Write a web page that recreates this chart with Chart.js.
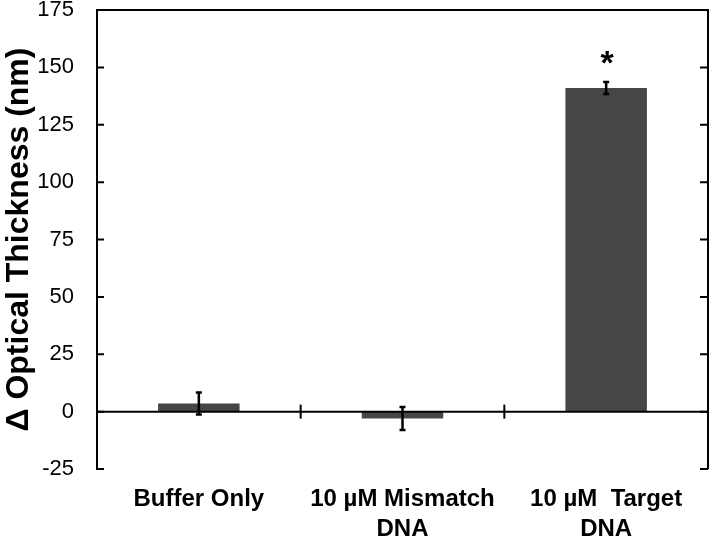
<!DOCTYPE html>
<html>
<head>
<meta charset="utf-8">
<script src="https://cdn.jsdelivr.net/npm/chart.js@4.4.1/dist/chart.umd.min.js"></script>
<style>
  body { margin: 0; background: #fff; }
  #wrap { width: 713px; height: 536px; }
</style>
</head>
<body>
<div id="wrap"><canvas id="thicknessChart"></canvas></div>
<script>
document.addEventListener("DOMContentLoaded", function() {
  const ctx = document.getElementById('thicknessChart').getContext('2d');

  // data
  const categories = [['Buffer Only'], ['10 \u00b5M Mismatch', 'DNA'], ['10 \u00b5M  Target', 'DNA']];
  const thicknessMeans = [3.5, -3.0, 141.0];
  const thicknessErrors = [4.8, 5.0, 2.6];
  const significance = ['', '', '*'];
  const yTicks = [-25, 0, 25, 50, 75, 100, 125, 150, 175];

  const fontFamily = '"Liberation Sans", Arial, sans-serif';

  // frame, zero line, inward ticks, error bars, asterisks
  const decorations = {
    id: 'decorations',
    afterDatasetsDraw(chart) {
      const c = chart.ctx;
      const area = chart.chartArea;
      const y = chart.scales.y;
      c.save();
      c.strokeStyle = '#000';
      c.lineWidth = 2;
      c.lineCap = 'butt';

      // top and right frame
      c.beginPath();
      c.moveTo(area.left - 1, area.top);
      c.lineTo(area.right, area.top);
      c.lineTo(area.right, area.bottom);
      c.stroke();

      // inward tick marks on both sides
      yTicks.forEach(v => {
        const py = y.getPixelForValue(v);
        c.beginPath();
        c.moveTo(area.left, py);
        c.lineTo(area.left + 7, py);
        c.moveTo(area.right, py);
        c.lineTo(area.right - 8, py);
        c.stroke();
      });

      // zero line with category separators
      const y0 = y.getPixelForValue(0);
      c.beginPath();
      c.moveTo(area.left, y0);
      c.lineTo(area.right, y0);
      c.stroke();
      const step = (area.right - area.left) / categories.length;
      for (let i = 1; i < categories.length; i++) {
        const px = area.left + step * i;
        c.beginPath();
        c.moveTo(px, y0 - 7);
        c.lineTo(px, y0 + 7);
        c.stroke();
      }

      // error bars
      const meta = chart.getDatasetMeta(0);
      c.lineWidth = 2.5;
      meta.data.forEach((bar, i) => {
        const top = y.getPixelForValue(thicknessMeans[i] + thicknessErrors[i]);
        const bot = y.getPixelForValue(thicknessMeans[i] - thicknessErrors[i]);
        c.beginPath();
        c.moveTo(bar.x, top);
        c.lineTo(bar.x, bot);
        c.moveTo(bar.x - 3, top);
        c.lineTo(bar.x + 3, top);
        c.moveTo(bar.x - 3, bot);
        c.lineTo(bar.x + 3, bot);
        c.stroke();

        if (significance[i]) {
          c.fillStyle = '#000';
          c.font = 'bold 34px ' + fontFamily;
          c.textAlign = 'center';
          c.textBaseline = 'alphabetic';
          c.fillText(significance[i], bar.x + 1, top - 8);
        }
      });
      c.restore();
    }
  };

  new Chart(ctx, {
    type: 'bar',
    data: {
      labels: categories,
      datasets: [{
        label: 'Optical thickness',
        data: thicknessMeans,
        backgroundColor: '#464646',
        borderWidth: 0,
        barPercentage: 0.4,
        categoryPercentage: 1.0
      }]
    },
    options: {
      responsive: true,
      maintainAspectRatio: false,
      animation: false,
      layout: { padding: { top: 10, right: 5, left: 0, bottom: 0 } },
      plugins: {
        legend: { display: false },
        tooltip: { enabled: false }
      },
      scales: {
        x: {
          grid: { display: false, drawTicks: false },
          border: { display: false },
          ticks: {
            color: '#000',
            padding: 15,
            maxRotation: 0,
            autoSkip: false,
            font: { family: fontFamily, size: 24, weight: 'bold', lineHeight: 1.25 }
          },
          afterFit(scale) { scale.height = 67; scale.paddingLeft = 0; scale.paddingRight = 0; }
        },
        y: {
          min: -25,
          max: 175,
          grid: { display: false, drawTicks: false },
          border: { display: true, color: '#000', width: 2 },
          ticks: {
            stepSize: 25,
            color: '#000',
            padding: 23,
            font: { family: fontFamily, size: 22 }
          },
          title: {
            display: true,
            text: '\u0394 Optical Thickness (nm)',
            color: '#000',
            padding: { top: 0, bottom: 0 },
            font: { family: fontFamily, size: 32, weight: 'bold' }
          },
          afterFit(scale) { scale.width = 97; scale.paddingTop = 0; scale.paddingBottom = 0; }
        }
      }
    },
    plugins: [decorations]
  });
});
</script>
</body>
</html>
